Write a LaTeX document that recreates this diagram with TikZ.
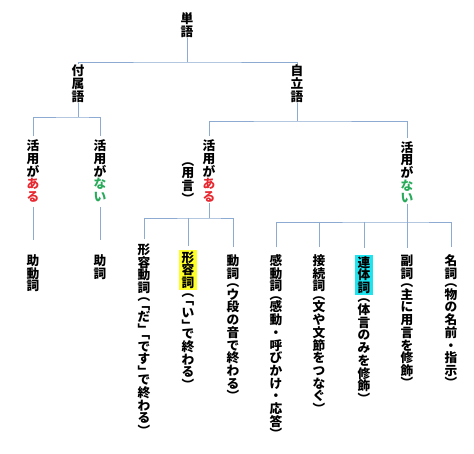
\documentclass[tikz,border=0pt]{standalone}
\usepackage{fontspec}
\usepackage{graphicx}
\newfontfamily\jp{Noto Sans CJK JP}
\definecolor{lnc}{RGB}{140,170,210}
\definecolor{kred}{RGB}{232,40,48}
\definecolor{kgreen}{RGB}{40,170,90}
\definecolor{hlyellow}{RGB}{255,255,40}
\definecolor{hlcyan}{RGB}{30,228,240}
\makeatletter
\def\vt@end{vt@end@marker}
\newcommand\vtcell[1]{\hbox to 1em{\vrule height .88em depth .12em width 0pt\hss#1\hss}}
\newcommand\vtrot[1]{\vtcell{\smash{\rotatebox[origin=c]{-90}{\vtcell{#1}}}}}
\newcommand\vt@open[1]{\vbox to .65em{\vskip-.35em\vtrot{#1}\vskip0pt}}
\newcommand\vt@close[1]{\vbox to .65em{\vtrot{#1}\vskip-.35em}}
\def\vt@char#1{%
 \ifx#1（\vt@open{#1}\else
 \ifx#1「\vt@open{#1}\else
 \ifx#1）\vt@close{#1}\else
 \ifx#1」\vt@close{#1}\else
 \vtcell{\smash{#1}}\fi\fi\fi\fi}
\def\vt@loop#1{\ifx#1\vt@end\else\vt@char{#1}\expandafter\vt@loop\fi}
\newcommand\vt[1]{\vbox{\offinterlineskip\vt@loop#1\vt@end}}
\newcommand\vtc[2]{\vbox{\offinterlineskip\color{#1}\vt@loop#2\vt@end}}
\newcommand\vthl[2]{\hbox to 1em{\hss\fboxsep=0pt\colorbox{#1}{\kern2.6pt\vbox{\offinterlineskip\kern1pt\vt@loop#2\vt@end\kern1pt}\kern2.6pt}\hss}}
\newcommand\vtcol[1]{\vbox{\offinterlineskip#1}}
\makeatother
\tikzset{
  vtn/.style={inner sep=0pt, outer sep=0pt, anchor=north, font=\jp\bfseries\fontsize{12.7}{12.7}\selectfont},
  ln/.style={draw=lnc, line width=0.9pt}
}
\begin{document}
\begin{tikzpicture}[x=1pt,y=-1pt]
\fill[white] (0,0) rectangle (474,454);
\useasboundingbox (0,0) rectangle (474,454);
% nodes
\node[vtn] (tango) at (187,12.7) {\vt{単語}};
\node[vtn] (fuzoku) at (78,64.5) {\vt{付属語}};
\node[vtn] (jiritsu) at (297,64.5) {\vt{自立語}};
\node[vtn] (kA) at (33,139.5) {\vtcol{\vt{活用が}\vtc{kred}{ある}}};
\node[vtn] (kB) at (100,139.5) {\vtcol{\vt{活用が}\vtc{kgreen}{ない}}};
\node[vtn] (kC) at (209,139.5) {\vtcol{\vt{活用が}\vtc{kred}{ある}}};
\node[vtn] (yougen) at (188,158.5) {\vt{（用言）}};
\node[vtn] (kD) at (407,141) {\vtcol{\vt{活用が}\vtc{kgreen}{ない}}};
\node[vtn] (jodoushi) at (33,254.4) {\vt{助動詞}};
\node[vtn] (joshi) at (100,254.4) {\vt{助詞}};
\node[vtn] (keiyoudoushi) at (144,243.4) {\vt{形容動詞（「だ」「です」で終わる）}};
\node[vtn] (keiyoushi) at (188,250) {\vtcol{\vthl{hlyellow}{形容詞}\vt{（「い」で終わる）}}};
\node[vtn] (doushi) at (233,254.4) {\vt{動詞（ウ段の音で終わる）}};
\node[vtn] (kandoushi) at (276,254.4) {\vt{感動詞（感動・呼びかけ・応答）}};
\node[vtn] (setsuzoku) at (319,254.4) {\vt{接続詞（文や文節をつなぐ）}};
\node[vtn] (rentai) at (364,255) {\vtcol{\vthl{hlcyan}{連体詞}\vt{（体言のみを修飾）}}};
\node[vtn] (fukushi) at (407,254.4) {\vt{副詞（主に用言を修飾）}};
\node[vtn] (meishi) at (451,254.4) {\vt{名詞（物の名前・指示）}};
% junctions
\coordinate (j1) at (187,62);
\coordinate (j2) at (78,117);
\coordinate (j3) at (297,121);
\coordinate (j4) at (209,218);
\coordinate (j5) at (407,222);
% connectors
\draw[ln] (tango.south) -- (j1);
\draw[ln] (fuzoku.north) |- (j1) -| (jiritsu.north);
\draw[ln] (fuzoku.south) -- (j2);
\draw[ln] ([yshift=3pt]kA.north) |- (j2) -| ([yshift=3pt]kB.north);
\draw[ln] (jiritsu.south) -- (j3);
\draw[ln] ([yshift=3pt]kC.north) |- (j3) -| ([yshift=3pt]kD.north);
\draw[ln] ([yshift=-4pt]kA.south) -- ([yshift=14pt]jodoushi.north);
\draw[ln] ([yshift=-4pt]kB.south) -- ([yshift=14pt]joshi.north);
\draw[ln] (kC.south) -- (j4);
\draw[ln] ([yshift=4pt]keiyoudoushi.north) |- (j4) -| ([yshift=7pt]doushi.north);
\draw[ln] (j4 -| keiyoushi.north) -- ([yshift=4pt]keiyoushi.north);
\draw[ln] (kD.south) -- ([yshift=6pt]fukushi.north);
\draw[ln] ([yshift=7pt]kandoushi.north) |- (j5) -| ([yshift=7pt]meishi.north);
\draw[ln] (j5 -| setsuzoku.north) -- ([yshift=7pt]setsuzoku.north);
\draw[ln] (j5 -| rentai.north) -- ([yshift=7pt]rentai.north);
\end{tikzpicture}
\end{document}
